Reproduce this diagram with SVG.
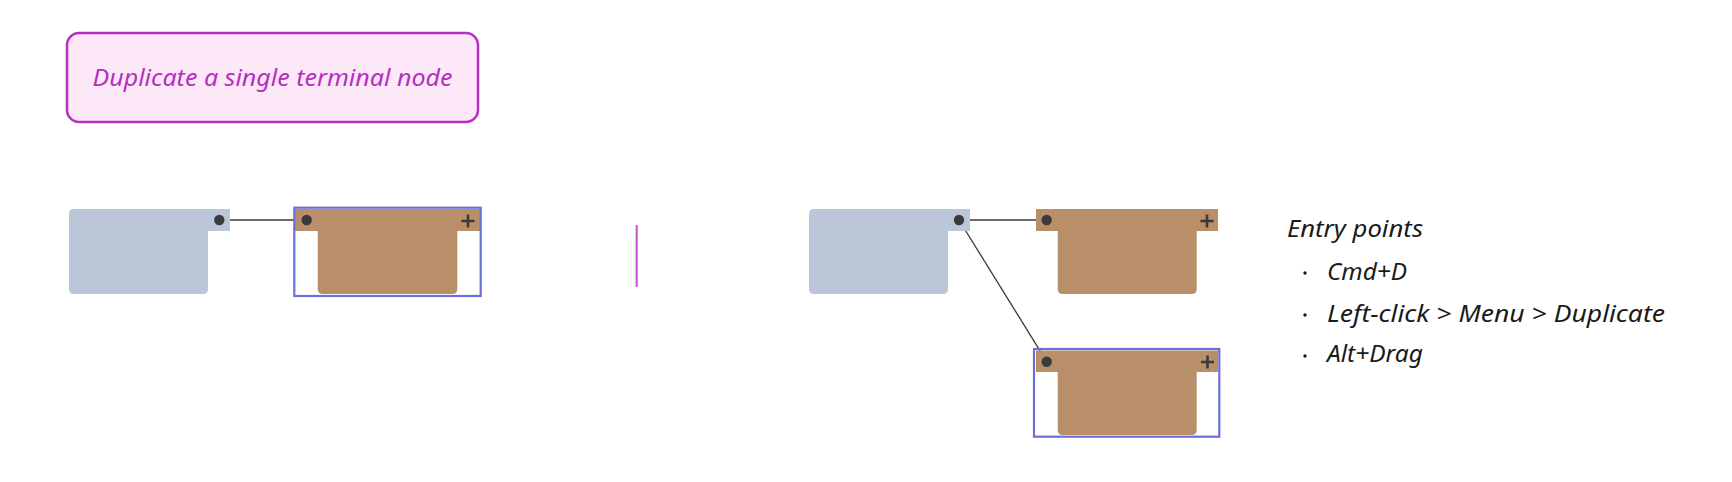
<svg xmlns="http://www.w3.org/2000/svg" width="1732" height="482" viewBox="0 0 1732 482">
<style>
.grey{fill:#bcc6d9}
.brown{fill:#b88f69}
.sel{fill:none;stroke:#6b6fd8;stroke-width:2.2}
.dot{fill:#3a3a3a}
.plus{stroke:#3a3a3a;stroke-width:2.6;fill:none}
.conn{stroke:#3a3a3a;stroke-width:1.3;fill:none}
.hand{font-family:"Noto Sans","Open Sans",sans-serif;font-style:italic}
</style>
<rect width="1732" height="482" fill="#ffffff"/>
<g id="title">
<rect x="67" y="33" width="411" height="89" rx="12" fill="#fde8f8" stroke="#b52fc0" stroke-width="2.5"/>
<text class="hand" x="272.5" y="86" text-anchor="middle" font-size="23" fill="#b52fc0" textLength="360" lengthAdjust="spacingAndGlyphs">Duplicate a single terminal node</text>
</g>
<g id="divider">
<line x1="636.7" y1="225" x2="636.7" y2="287" stroke="#c34fd0" stroke-width="2"/>
</g>
<g id="connectors">
<line class="conn" x1="219.3" y1="220" x2="306.7" y2="220"/>
<line class="conn" x1="959" y1="220" x2="1046.7" y2="220"/>
<line class="conn" x1="959" y1="220" x2="1046.7" y2="361.7"/>
</g>
<g id="grey-node-1">
<path class="grey" d="M74,209 H230 V231 H208 V289 Q208,294 203,294 H74 Q69,294 69,289 V214 Q69,209 74,209 Z"/>
<circle class="dot" cx="219.3" cy="220" r="5.2"/>
</g>
<g id="brown-node-1">
<path class="brown" d="M294.5,209 H480 V231 H457.3 V289 Q457.3,294 452.3,294 H322.7 Q317.7,294 317.7,289 V231 H294.5 Z"/>
<circle class="dot" cx="306.7" cy="220" r="5.2"/>
<path class="plus" d="M461.5,221 H474.5 M468,214.5 V227.5"/>
<rect class="sel" x="294.3" y="207.7" width="186.4" height="88.3"/>
</g>
<g id="grey-node-2">
<path class="grey" d="M814,209 H970 V231 H948 V289 Q948,294 943,294 H814 Q809,294 809,289 V214 Q809,209 814,209 Z"/>
<circle class="dot" cx="959" cy="220" r="5.2"/>
</g>
<g id="brown-node-2">
<path class="brown" d="M1036,209 H1218 V231 H1196.7 V289 Q1196.7,294 1191.7,294 H1062.7 Q1057.7,294 1057.7,289 V231 H1036 Z"/>
<circle class="dot" cx="1046.7" cy="220" r="5.2"/>
<path class="plus" d="M1200.5,221 H1213.5 M1207,214.5 V227.5"/>
</g>
<g id="brown-node-3">
<path class="brown" d="M1036,350.5 H1218 V372 H1196.7 V430 Q1196.7,435 1191.7,435 H1062.7 Q1057.7,435 1057.7,430 V372 H1036 Z"/>
<circle class="dot" cx="1046.7" cy="361.7" r="5.2"/>
<path class="plus" d="M1201,362 H1214 M1207.5,355.5 V368.5"/>
<rect class="sel" x="1034" y="349" width="185.3" height="87.7"/>
</g>
<g id="entry-points" class="hand" font-size="23" fill="#1a1a1a">
<text x="1287" y="237" textLength="136" lengthAdjust="spacingAndGlyphs">Entry points</text>
<circle cx="1305" cy="273" r="1.7" fill="#1a1a1a"/>
<text x="1327" y="280" textLength="80" lengthAdjust="spacingAndGlyphs">Cmd+D</text>
<circle cx="1305" cy="315" r="1.7" fill="#1a1a1a"/>
<text x="1327" y="321.5" textLength="338" lengthAdjust="spacingAndGlyphs">Left-click &gt; Menu &gt; Duplicate</text>
<circle cx="1305" cy="356" r="1.7" fill="#1a1a1a"/>
<text x="1327" y="362" textLength="96" lengthAdjust="spacingAndGlyphs">Alt+Drag</text>
</g>
</svg>
